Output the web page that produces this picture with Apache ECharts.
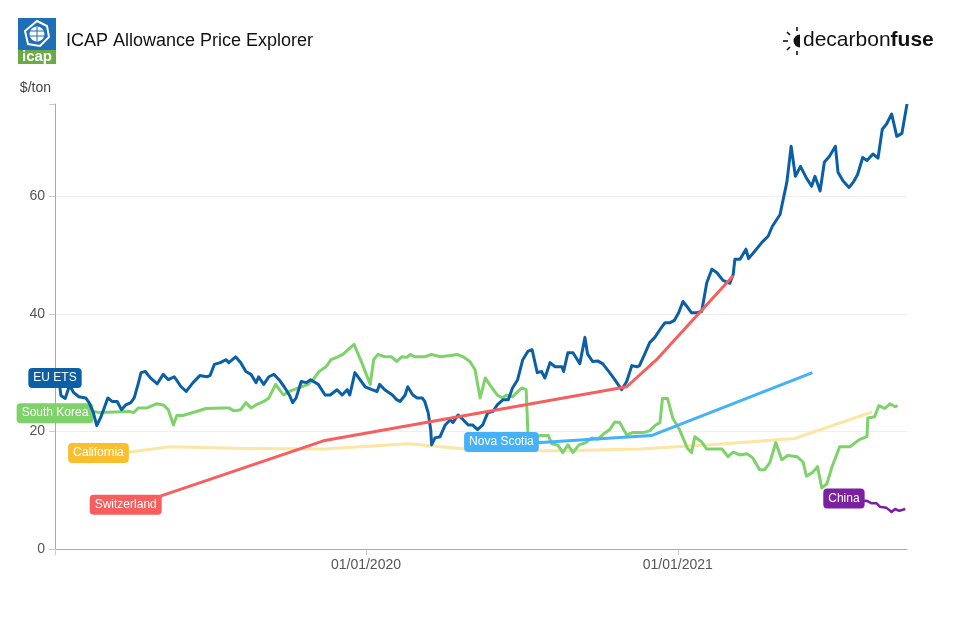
<!DOCTYPE html>
<html>
<head>
<meta charset="utf-8">
<script src="https://cdn.jsdelivr.net/npm/echarts@6/dist/echarts.min.js"></script>
<style>
html,body{margin:0;padding:0;background:#fff;}
#chart{width:962px;height:620px;}
</style>
</head>
<body>
<div id="chart"></div>
<script>
// ---------- DATA ----------
const euEts = [['2019-01-01',28.6],['2019-01-06',28.3],['2019-01-08',26.1],['2019-01-13',25.6],['2019-01-18',27.8],['2019-01-23',26.6],['2019-01-29',25.9],['2019-02-06',25.7],['2019-02-10',24.9],['2019-02-15',23.2],['2019-02-19',21.0],['2019-02-24',22.5],['2019-03-04',25.7],['2019-03-09',25.1],['2019-03-15',25.1],['2019-03-20',23.7],['2019-03-25',24.5],['2019-03-31',24.9],['2019-04-04',25.7],['2019-04-09',28.3],['2019-04-12',30.0],['2019-04-17',30.2],['2019-04-23',29.1],['2019-05-01',28.1],['2019-05-08',29.7],['2019-05-14',28.8],['2019-05-21',29.3],['2019-05-29',27.6],['2019-06-04',26.8],['2019-06-12',28.3],['2019-06-20',29.5],['2019-06-28',29.3],['2019-07-02',29.5],['2019-07-07',31.4],['2019-07-14',31.7],['2019-07-21',32.2],['2019-07-24',31.7],['2019-08-01',32.7],['2019-08-07',31.7],['2019-08-13',30.2],['2019-08-19',29.7],['2019-08-25',28.3],['2019-08-28',29.3],['2019-09-03',28.0],['2019-09-09',29.3],['2019-09-15',29.7],['2019-09-21',28.8],['2019-09-27',27.6],['2019-10-03',26.2],['2019-10-07',24.9],['2019-10-11',25.7],['2019-10-17',28.5],['2019-10-23',28.3],['2019-10-28',28.8],['2019-11-06',28.0],['2019-11-14',26.2],['2019-11-20',26.2],['2019-11-28',27.1],['2019-12-04',26.2],['2019-12-10',27.1],['2019-12-13',26.2],['2019-12-19',30.0],['2019-12-25',28.8],['2019-12-31',27.6],['2020-01-08',27.1],['2020-01-14',26.8],['2020-01-17',28.0],['2020-01-23',27.1],['2020-02-01',26.2],['2020-02-06',25.4],['2020-02-10',25.1],['2020-02-16',26.2],['2020-02-19',27.6],['2020-02-25',26.2],['2020-03-01',25.7],['2020-03-07',25.7],['2020-03-10',25.1],['2020-03-14',23.2],['2020-03-17',20.3],['2020-03-18',17.7],['2020-03-22',18.9],['2020-03-28',19.1],['2020-04-03',21.1],['2020-04-09',22.0],['2020-04-12',21.5],['2020-04-18',22.8],['2020-04-24',22.0],['2020-04-30',21.1],['2020-05-05',21.1],['2020-05-11',20.3],['2020-05-17',21.1],['2020-05-23',23.2],['2020-05-29',23.4],['2020-06-03',24.5],['2020-06-10',25.4],['2020-06-16',25.4],['2020-06-21',27.4],['2020-06-27',28.8],['2020-07-03',32.2],['2020-07-09',33.6],['2020-07-14',33.9],['2020-07-20',30.0],['2020-07-25',30.2],['2020-07-29',29.1],['2020-08-04',31.7],['2020-08-10',31.0],['2020-08-18',31.0],['2020-08-20',30.2],['2020-08-25',33.4],['2020-08-31',33.4],['2020-09-08',31.5],['2020-09-14',36.0],['2020-09-17',33.2],['2020-09-23',31.9],['2020-09-29',32.0],['2020-10-05',31.5],['2020-10-13',30.0],['2020-10-19',28.8],['2020-10-27',27.1],['2020-11-02',28.5],['2020-11-08',31.2],['2020-11-14',31.0],['2020-11-17',31.2],['2020-11-23',33.1],['2020-11-29',35.1],['2020-12-05',36.0],['2020-12-11',37.3],['2020-12-17',38.5],['2020-12-23',38.5],['2020-12-28',38.9],['2021-01-02',40.2],['2021-01-07',42.1],['2021-01-12',41.2],['2021-01-17',40.2],['2021-01-23',40.2],['2021-01-29',40.4],['2021-02-04',45.3],['2021-02-10',47.6],['2021-02-16',47.0],['2021-02-23',45.7],['2021-03-03',45.2],['2021-03-07',46.7],['2021-03-09',49.3],['2021-03-15',49.3],['2021-03-22',51.0],['2021-03-25',49.4],['2021-04-01',50.6],['2021-04-10',52.2],['2021-04-17',53.2],['2021-04-22',54.9],['2021-05-01',56.9],['2021-05-04',59.0],['2021-05-09',62.4],['2021-05-14',68.5],['2021-05-19',63.4],['2021-05-25',65.1],['2021-06-01',63.1],['2021-06-07',61.7],['2021-06-11',63.4],['2021-06-17',60.9],['2021-06-22',65.8],['2021-06-28',66.8],['2021-07-05',68.5],['2021-07-08',64.1],['2021-07-14',62.6],['2021-07-21',61.5],['2021-07-26',62.4],['2021-07-31',63.7],['2021-08-06',66.6],['2021-08-11',66.1],['2021-08-18',67.2],['2021-08-24',66.5],['2021-08-29',71.4],['2021-09-03',72.3],['2021-09-09',74.0],['2021-09-15',70.2],['2021-09-21',70.7],['2021-09-27',75.7]];

const southKorea = [['2019-01-01',22.6],['2019-02-15',23.4],['2019-02-23',23.2],['2019-03-30',23.4],['2019-04-03',23.2],['2019-04-09',24.0],['2019-04-19',24.0],['2019-04-30',24.7],['2019-05-08',24.5],['2019-05-14',23.7],['2019-05-20',21.1],['2019-05-24',22.7],['2019-05-31',22.7],['2019-06-16',23.4],['2019-06-27',23.9],['2019-07-17',24.0],['2019-07-24',24.0],['2019-07-30',23.5],['2019-08-07',23.7],['2019-08-13',24.9],['2019-08-19',24.0],['2019-08-25',24.5],['2019-09-03',25.1],['2019-09-09',25.7],['2019-09-17',28.0],['2019-09-26',26.2],['2019-10-03',26.8],['2019-10-14',27.4],['2019-10-25',28.0],['2019-10-31',28.8],['2019-11-07',30.2],['2019-11-15',31.0],['2019-11-21',32.2],['2019-11-29',32.7],['2019-12-05',33.1],['2019-12-11',33.9],['2019-12-18',34.8],['2019-12-20',34.8],['2019-12-27',31.7],['2020-01-06',28.0],['2020-01-10',32.2],['2020-01-15',33.1],['2020-01-23',32.7],['2020-01-31',32.7],['2020-02-06',31.9],['2020-02-12',32.7],['2020-02-18',32.6],['2020-02-22',33.1],['2020-02-27',32.7],['2020-03-10',32.7],['2020-03-18',33.1],['2020-03-28',32.7],['2020-04-09',32.9],['2020-04-17',33.1],['2020-04-24',32.7],['2020-05-02',31.9],['2020-05-08',30.5],['2020-05-14',25.7],['2020-05-20',29.1],['2020-05-25',28.0],['2020-06-03',26.2],['2020-06-09',25.7],['2020-06-14',26.2],['2020-06-21',25.9],['2020-06-26',26.6],['2020-07-02',27.4],['2020-07-07',27.1],['2020-07-09',19.9],['2020-07-15',18.6],['2020-07-23',19.3],['2020-08-02',19.3],['2020-08-06',17.9],['2020-08-13',17.7],['2020-08-19',16.4],['2020-08-25',17.7],['2020-08-31',16.4],['2020-09-07',17.7],['2020-09-15',18.1],['2020-09-22',18.9],['2020-09-29',18.7],['2020-10-06',19.6],['2020-10-13',20.3],['2020-10-19',21.6],['2020-10-25',21.5],['2020-11-02',19.4],['2020-11-09',19.8],['2020-11-21',19.8],['2020-11-29',20.1],['2020-12-06',21.1],['2020-12-11',21.5],['2020-12-14',25.6],['2020-12-20',25.6],['2020-12-26',22.3],['2021-01-03',20.3],['2021-01-12',17.2],['2021-01-17',16.4],['2021-01-21',19.1],['2021-01-29',18.2],['2021-02-04',17.0],['2021-02-22',17.0],['2021-03-01',15.7],['2021-03-07',16.5],['2021-03-15',16.0],['2021-03-23',16.2],['2021-03-30',15.5],['2021-04-07',13.5],['2021-04-13',13.5],['2021-04-19',14.7],['2021-04-26',18.1],['2021-05-03',15.2],['2021-05-10',15.9],['2021-05-21',15.7],['2021-05-28',14.8],['2021-06-01',12.4],['2021-06-08',13.0],['2021-06-14',14.0],['2021-06-19',10.4],['2021-06-25',11.1],['2021-07-01',14.0],['2021-07-10',17.4],['2021-07-22',17.4],['2021-08-02',18.6],['2021-08-11',19.1],['2021-08-12',22.3],['2021-08-20',22.5],['2021-08-25',24.4],['2021-09-01',23.9],['2021-09-07',24.7],['2021-09-13',24.2],['2021-09-16',24.4]];

const california = [['2019-02-21',15.8],['2019-05-15',17.4],['2019-08-14',17.1],['2019-11-13',17.0],['2020-02-19',17.9],['2020-05-20',16.7],['2020-08-18',16.7],['2020-11-17',17.0],['2021-02-17',17.8],['2021-05-18',18.8],['2021-08-17',23.3]];

const switzerland = [['2019-03-25',7.0],['2019-11-12',18.4],['2020-11-02',27.6],['2020-12-07',32.2],['2021-03-07',46.5]];

const novaScotia = [['2020-06-08',17.7],['2020-12-01',19.3],['2021-06-08',30.0]];

const china = [['2021-07-15',8.1],['2021-08-11',8.2],['2021-08-16',7.8],['2021-08-22',7.8],['2021-08-26',7.2],['2021-09-03',7.0],['2021-09-09',6.3],['2021-09-13',6.8],['2021-09-18',6.5],['2021-09-25',6.8]];

const xStart = '2019-01-01';
const xEnd = '2021-09-27';
const yTickStep = 20;

// ---------- CHART ----------
const FONT = '"Liberation Sans", Arial, sans-serif';

function mkSeries(name, data, lineColor, labelColor, width, z) {
  return {
    type: 'line',
    name: name,
    z: z,
    symbol: 'none',
    showSymbol: true,
    showAllSymbol: true,
    silent: true,
    animation: false,
    lineStyle: { color: lineColor, width: width, join: 'round' },
    itemStyle: { color: lineColor },
    data: data.map(function (p, i) {
      if (i !== 0) return { value: p };
      return {
        value: p,
        symbol: 'circle',
        symbolSize: 1,
        itemStyle: { color: lineColor },
        label: {
          show: true,
          position: 'inside',
          offset: [0, -3],
          formatter: name,
          color: '#fff',
          backgroundColor: labelColor,
          borderRadius: 4,
          padding: [3, 5, 3, 5],
          fontSize: 12,
          lineHeight: 14,
          fontFamily: FONT
        }
      };
    })
  };
}

const chart = echarts.init(document.getElementById('chart'), null, { renderer: 'canvas' });

function pad(n) { return n < 10 ? '0' + n : '' + n; }
const xStartTime = new Date(xStart + 'T00:00:00').getTime();

const option = {
  backgroundColor: '#fff',
  animation: false,
  textStyle: { fontFamily: FONT },
  grid: { left: 55, right: 55, top: 104, bottom: 71, containLabel: false },
  xAxis: {
    type: 'time',
    min: xStart,
    max: xEnd,
    minInterval: 365 * 24 * 3600 * 1000,
    splitNumber: 2,
    axisLine: { show: true, lineStyle: { color: '#aaa', width: 1 } },
    axisTick: { show: true, length: 6, lineStyle: { color: '#ccc' } },
    splitLine: { show: false },
    axisLabel: {
      color: '#555',
      fontSize: 14,
      fontFamily: FONT,
      margin: 9,
      formatter: function (v) {
        if (v <= xStartTime + 86400000) return '';
        const d = new Date(v);
        return pad(d.getMonth() + 1) + '/' + pad(d.getDate()) + '/' + d.getFullYear();
      }
    }
  },
  yAxis: {
    type: 'value',
    min: 0,
    max: 'dataMax',
    interval: yTickStep,
    name: '$/ton',
    nameLocation: 'end',
    nameGap: 16,
    nameTextStyle: { color: '#444', fontSize: 14, fontFamily: FONT, align: 'right', verticalAlign: 'middle', padding: [0, 4, 0, 0] },
    axisLine: { show: true, lineStyle: { color: '#aaa', width: 1 } },
    axisTick: { show: true, length: 6, lineStyle: { color: '#ccc' } },
    splitLine: { show: true, lineStyle: { color: ['#efefef', '#efefef', '#efefef', '#efefef', 'rgba(0,0,0,0)'], width: 1 } },
    axisLabel: {
      color: '#555',
      fontSize: 14,
      fontFamily: FONT,
      margin: 10,
      formatter: function (v) { return (v % yTickStep === 0) ? String(v) : ''; }
    }
  },
  series: [
    mkSeries('California', california, '#fde5a3', '#fbbf2e', 3, 2),
    mkSeries('South Korea', southKorea, '#7ed26a', '#7ed26a', 3, 3),
    mkSeries('EU ETS', euEts, '#0b60a5', '#0b60a5', 3, 4),
    mkSeries('Switzerland', switzerland, '#f75f5f', '#f75f5f', 3, 5),
    mkSeries('Nova Scotia', novaScotia, '#45b1f6', '#45b1f6', 3, 6),
    mkSeries('China', china, '#7a20a0', '#7a20a0', 2.5, 7)
  ],
  graphic: [
    // ICAP logo
    { type: 'rect', shape: { x: 18, y: 18, width: 38, height: 33 }, style: { fill: '#1e6fb6' } },
    { type: 'rect', shape: { x: 18, y: 50, width: 38, height: 14 }, style: { fill: '#6aab43' } },
    { type: 'polygon', shape: { points: [[37, 21], [47, 26], [49, 37], [40, 46], [28, 44], [25, 31]] }, style: { fill: 'none', stroke: '#fff', lineWidth: 2 } },
    { type: 'circle', shape: { cx: 37, cy: 34, r: 7.5 }, style: { fill: '#fff' } },
    { type: 'polyline', shape: { points: [[30, 31], [44, 31]] }, style: { stroke: '#1e6fb6', lineWidth: 1 } },
    { type: 'polyline', shape: { points: [[30, 36], [44, 36]] }, style: { stroke: '#1e6fb6', lineWidth: 1 } },
    { type: 'polyline', shape: { points: [[37, 27], [37, 41]] }, style: { stroke: '#1e6fb6', lineWidth: 1 } },
    { type: 'text', style: { x: 37, y: 57, text: 'icap', fill: '#fff', font: 'bold 15px ' + FONT, textAlign: 'center', textVerticalAlign: 'middle' } },
    // title
    { type: 'text', style: { x: 66, y: 41, text: 'ICAP Allowance Price Explorer', fill: '#111', font: '18px ' + FONT, textVerticalAlign: 'middle' } },
    // decarbonfuse logo
    { type: 'polyline', shape: { points: [[783, 41], [788, 41]] }, style: { stroke: '#111', lineWidth: 1.6 } },
    { type: 'polyline', shape: { points: [[787, 32], [790, 35]] }, style: { stroke: '#111', lineWidth: 1.6 } },
    { type: 'polyline', shape: { points: [[787, 50], [790, 47]] }, style: { stroke: '#111', lineWidth: 1.6 } },
    { type: 'polyline', shape: { points: [[797, 27], [797, 31]] }, style: { stroke: '#111', lineWidth: 1.6 } },
    { type: 'polyline', shape: { points: [[797, 51], [797, 55]] }, style: { stroke: '#111', lineWidth: 1.6 } },
    { type: 'sector', shape: { cx: 800, cy: 41, r0: 0, r: 6.5, startAngle: Math.PI / 2, endAngle: Math.PI * 1.5, clockwise: true }, style: { fill: '#111' } },
    { type: 'text', style: { x: 803, y: 40, text: '{a|decarbon}{b|fuse}', textVerticalAlign: 'middle',
        rich: { a: { font: '21px ' + FONT, fill: '#111' }, b: { font: 'bold 21px ' + FONT, fill: '#111' } } } }
  ]
};

chart.setOption(option);
</script>
</body>
</html>
